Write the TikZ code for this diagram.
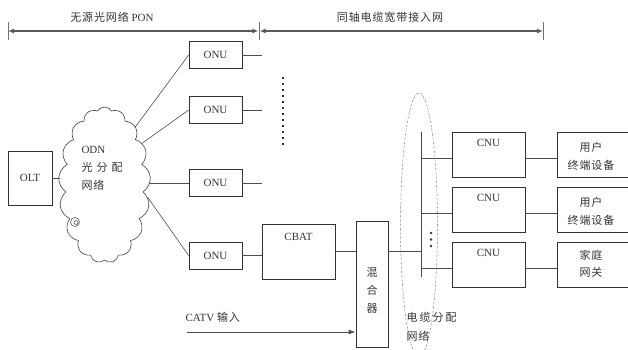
\documentclass[tikz,border=0pt]{standalone}
\usepackage{fontspec}
\setmainfont{Liberation Serif}
\newfontfamily\cjk[LetterSpace=8]{Noto Sans CJK SC}
\usetikzlibrary{arrows.meta,shapes.symbols}
\begin{document}
\begin{tikzpicture}[x=1pt,y=-1pt,
  font=\fontsize{11}{18}\selectfont,
  every node/.style={text=black!80},
  unit/.style={draw=black!80,line width=0.7pt,inner sep=0pt,minimum width=53pt,minimum height=27pt},
  wire/.style={draw=black!70,line width=0.6pt},
  span/.style={draw=black!65,line width=1.3pt,{Latex[length=6pt,width=5pt]}-{Latex[length=6pt,width=5pt]}}]
\useasboundingbox (0,0) rectangle (628,349);
% scale bar
\draw[black!55,line width=0.8pt] (8,22) -- (8,40);
\draw[black!55,line width=0.8pt] (259,22) -- (259,40);
\draw[black!55,line width=0.8pt] (543,22) -- (543,40);
\draw[span] (8,31) -- (258.3,31);
\draw[span] (259.7,31) -- (543,31);
\node (pon) at (112,17) {{\cjk 无源光网络} PON};
\node (coax) at (390,17) {\cjk 同轴电缆宽带接入网};
% optical part
\node[unit,minimum width=44pt,minimum height=54pt] (olt) at (30,178) {OLT};
\node[draw=black!75,line width=0.6pt,cloud,cloud puffs=17,cloud puff arc=120,aspect=0.55,
  minimum width=92pt,minimum height=156pt] (odn) at (104.5,185) {};
\draw[black!75,line width=0.5pt] (75,222) circle (4.5pt) (76,222.5) circle (2pt);
\node[anchor=west,align=left] (odntext) at (78,168) {ODN\\{\cjk 光\hspace{4pt}分\hspace{4pt}配}\\{\cjk 网络}};
\node[unit] (onu1) at (215.5,55) {ONU};
\node[unit] (onu2) at (215.5,110) {ONU};
\node[unit] (onu3) at (215.5,183) {ONU};
\node[unit] (onu4) at (215.5,255.5) {ONU};
\draw[wire] (olt.east) -- (olt.east -| odn.west);
\draw[wire] (odn.62) -- (onu1.west);
\draw[wire] (odn.48) -- (onu2.west);
\draw[wire] (onu3.west -| odn.east) -- (onu3.west);
\draw[wire] (odn.-16) -- (onu4.west);
\draw[wire] (onu1.east) -- ++(20,0);
\draw[wire] (onu2.east) -- ++(20,0);
\draw[wire] (onu3.east) -- ++(20,0);
\draw[black!80,line width=2pt,dash pattern=on 2pt off 4pt] (283,77) -- (283,148);
% coax part
\node[unit,minimum width=73pt,minimum height=55pt] (cbat) at (298.5,251.5) {};
\node[below=6pt] (cbattext) at (cbat.north) {CBAT};
\node[unit,minimum width=32pt,minimum height=126pt] (mix) at (372,284) {};
\node[align=center,font=\cjk\fontsize{11}{18}\selectfont] (mixtext) at (372,290) {混\\合\\器};
\draw[wire] (onu4.east) -- (onu4.east -| cbat.west);
\draw[wire,line width=1.2pt] (cbat.east) -- (cbat.east -| mix.west);
\coordinate (catv) at (187,332);
\draw[wire,line width=1pt,-{Latex[length=7pt,width=5pt]}] (catv) -- (catv -| mix.west);
\node[anchor=west] (catvtext) at (182,317) {CATV {\cjk 输入}};
\coordinate (bustop) at (421,132);
\coordinate (busend) at (421,277);
\draw[wire] (bustop) -- (busend);
\draw[wire] (cbat.east -| mix.east) -- (cbat.east -| bustop);
\draw[black!60,line width=0.5pt,dash pattern=on 1.5pt off 1.2pt on 0.4pt off 1.2pt] (419,225) ellipse (18.5 and 132);
\foreach \y in {233,239.5,246} \fill[black!80] (431,\y) circle (1.4pt);
\foreach \i/\c in {1/154.5,2/209.5,3/264.5} {
  \node[unit,minimum width=73pt,minimum height=45pt] (cnu\i) at (488.5,\c) {};
  \node[below=4pt] (cnutext\i) at (cnu\i.north) {CNU};
  \node[unit,minimum width=76pt,minimum height=45pt] (user\i) at (595,\c) {};
  \draw[wire] ([yshift=-4pt]cnu\i.west -| bustop) -- ([yshift=-4pt]cnu\i.west);
  \draw[wire] ([yshift=-4pt]cnu\i.east) -- ([yshift=-4pt]cnu\i.east -| user\i.west);
}
\node[align=center,font=\cjk\fontsize{11}{18}\selectfont] (usertext1) at (591,156) {用户\\终端设备};
\node[align=center,font=\cjk\fontsize{11}{18}\selectfont] (usertext2) at (591,211) {用户\\终端设备};
\node[align=center,font=\cjk\fontsize{11}{17}\selectfont] (usertext3) at (591,264) {家庭\\网关};
\node[anchor=west,align=left,font=\cjk\fontsize{11}{19}\selectfont] (cabletext) at (403,327) {电\hspace{2pt}缆\hspace{2pt}分\hspace{2pt}配\\网络};
\end{tikzpicture}
\end{document}
